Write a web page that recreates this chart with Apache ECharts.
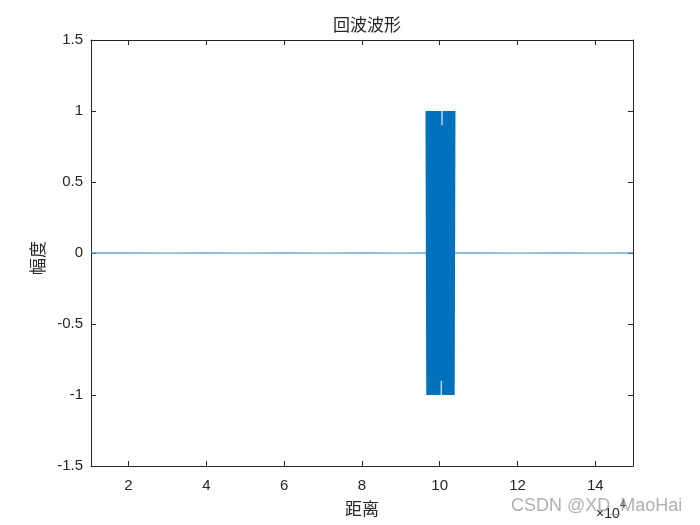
<!DOCTYPE html>
<html>
<head>
<meta charset="utf-8">
<script src="https://cdn.jsdelivr.net/npm/echarts@6/dist/echarts.min.js"></script>
<style>html,body{margin:0;padding:0;background:#fff}#c{width:700px;height:525px}</style>
</head>
<body>
<div id="c"></div>
<script>
// Distance values (real units); axis shows them in units of 10^4
const baseX = [10350, 20000, 30000, 40000, 50000, 60000, 70000, 80000, 90000, 96600,
  103800, 110000, 120000, 130000, 140000, 149700];
const baseY = [0, 0.001, -0.001, 0.001, -0.001, 0.001, -0.001, 0.001, -0.001, 0,
  0, 0.001, -0.001, 0.001, -0.001, 0];
const pulseX = [
  96600, 96800, 97000, 97200, 97400, 97600, 97800, 98000, 98200, 98400,
  98600, 98800, 99000, 99200, 99400, 99600, 99800, 100000, 100200, 100400,
  100600, 100800, 101000, 101200, 101400, 101600, 101800, 102000, 102200, 102400,
  102600, 102800, 103000, 103200, 103400, 103600, 103800
];
const pulseY = [
  1, -1, 1, -1, 1, -1, 1, -1, 1, -1,
  1, -1, 1, -1, 1, -1, 1, -1, 1, -0.9,
  0.9, -1, 1, -1, 1, -1, 1, -1, 1, -1,
  1, -1, 1, -1, 1, -1, 1
];
const xTicks = [20000, 40000, 60000, 80000, 100000, 120000, 140000];
const yTicks = [-1.5, -1, -0.5, 0, 0.5, 1, 1.5];

const titleText = '回波波形';
const xName = '距离';
const yName = '幅度';

const chart = echarts.init(document.getElementById('c'), null, {renderer: 'canvas'});
const lineCol = '#262626';
const labelFont = {fontFamily: 'Liberation Sans, Arial, sans-serif', fontSize: 15, color: '#262626'};
const cjkFont = '17px "Noto Sans CJK SC"';

const baseData = baseX.map((x, i) => [x, baseY[i]]);
const pulseData = pulseX.map((x, i) => [x, pulseY[i]]);

function xAx(pos, showLabel) {
  return {
    type: 'value', min: 10350, max: 149700, position: pos,
    splitLine: {show: false},
    axisLine: {show: true, onZero: false, lineStyle: {color: lineCol, width: 1}},
    axisTick: {show: true, inside: true, length: 5, customValues: xTicks, lineStyle: {color: lineCol}},
    axisLabel: showLabel
      ? Object.assign({show: true, margin: 12, customValues: xTicks, formatter: v => String(Math.round(v / 10000))}, labelFont)
      : {show: false}
  };
}
function yAx(pos, showLabel) {
  return {
    type: 'value', min: -1.5, max: 1.5, interval: 0.5, position: pos,
    splitLine: {show: false},
    axisLine: {show: true, onZero: false, lineStyle: {color: lineCol, width: 1}},
    axisTick: {show: true, inside: true, length: 5, lineStyle: {color: lineCol}},
    axisLabel: showLabel
      ? Object.assign({show: true, margin: 8, customValues: yTicks, formatter: v => String(v)}, labelFont)
      : {show: false}
  };
}

chart.setOption({
  animation: false,
  backgroundColor: '#fff',
  title: {
    text: titleText, left: 362, top: 11, textAlign: 'center',
    textStyle: {fontFamily: 'Noto Sans CJK SC', fontSize: 17, fontWeight: 'normal', color: '#262626'}
  },
  grid: {left: 91, right: 67, top: 40, bottom: 59, containLabel: false},
  xAxis: [xAx('bottom', true), xAx('top', false)],
  yAxis: [yAx('left', true), yAx('right', false)],
  series: [{
    type: 'line', xAxisIndex: 0, yAxisIndex: 0,
    data: baseData, showSymbol: false, symbol: 'none',
    lineStyle: {color: '#4a95cc', width: 1.3, opacity: 0.85}
  }, {
    type: 'line', xAxisIndex: 0, yAxisIndex: 0,
    data: pulseData, showSymbol: false, symbol: 'none',
    lineStyle: {color: '#0072BD', width: 2, join: 'bevel'}
  }],
  graphic: [
    {type: 'text', x: 362, y: 509, style: {text: xName, align: 'center', verticalAlign: 'middle', font: cjkFont, fill: '#262626'}},
    {type: 'text', x: 38, y: 258, rotation: Math.PI / 2, style: {text: yName, align: 'center', verticalAlign: 'middle', font: cjkFont, fill: '#262626'}},
    {type: 'text', x: 596, y: 514, style: {text: '×10', align: 'left', verticalAlign: 'middle', font: '14px "Liberation Sans", Arial', fill: '#262626'}},
    {type: 'text', x: 620, y: 505, style: {text: '4', align: 'left', verticalAlign: 'middle', font: '10px "Liberation Sans", Arial', fill: '#262626'}},
    {type: 'text', x: 511, y: 506, z: 100, style: {text: 'CSDN @XD_MaoHai', align: 'left', verticalAlign: 'middle', font: '18px "Liberation Sans", Arial', fill: 'rgba(150,150,150,0.75)'}}
  ]
});
</script>
</body>
</html>
